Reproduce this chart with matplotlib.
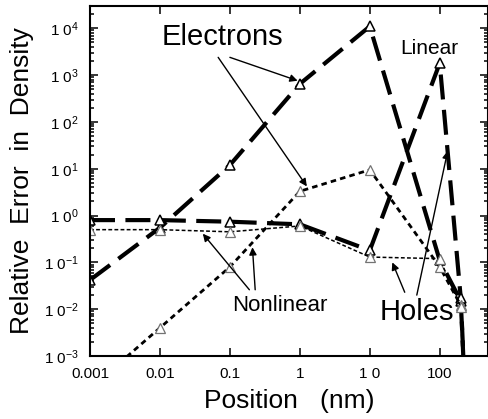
import matplotlib
matplotlib.use('Agg')
import matplotlib.pyplot as plt
from matplotlib.ticker import LogLocator, NullLocator, FixedLocator, FixedFormatter

plt.rcParams['font.family'] = ['Liberation Sans', 'DejaVu Sans']
plt.rcParams['mathtext.default'] = 'regular'

# positions (nm)
pos = [0.001, 0.01, 0.1, 1, 10, 100, 200, 250]

elec_lin = [0.042, 0.55, 12, 650, 11000, 0.11, 0.015, 1e-5]
hole_lin = [0.8, 0.8, 0.74, 0.65, 0.18, 1800, 0.017, 1e-5]
elec_nl = [0.0002, 0.004, 0.08, 3.3, 9.5, 0.08, 0.012, 1e-5]
hole_nl = [0.5, 0.5, 0.45, 0.6, 0.13, 0.12, 0.011, 1e-5]

xticks = [0.001, 0.01, 0.1, 1, 10, 100]
xlabels = ['0.001', '0.01', '0.1', '1', '1 0', '100']
yticks = [1e-3, 1e-2, 1e-1, 1, 10, 100, 1e3, 1e4]
ylabels = [r'1 0$^{-3}$', r'1 0$^{-2}$', r'1 0$^{-1}$', r'1 0$^{0}$',
           r'1 0$^{1}$', r'1 0$^{2}$', r'1 0$^{3}$', r'1 0$^{4}$']

fig = plt.figure(figsize=(4.89, 4.19), dpi=100)
ax = fig.add_axes([90/489, 63/419, 398/489, 350/419])

mk = dict(marker='^', markersize=7, markerfacecolor='white')

ax.plot(pos, elec_lin, color='k', lw=3, dashes=(6, 2.5), markeredgecolor='k', markeredgewidth=1.1, **mk)
ax.plot(pos, hole_lin, color='k', lw=3, dashes=(6, 2.5), markeredgecolor='k', markeredgewidth=1.1, **mk)
ax.plot(pos, elec_nl, color='k', lw=2, dashes=(2, 1.5), markeredgecolor='0.45', markeredgewidth=0.9, **mk)
ax.plot(pos, hole_nl, color='k', lw=1.1, dashes=(2.5, 1.5), markeredgecolor='0.45', markeredgewidth=0.9, **mk)

ax.set_xscale('log')
ax.set_yscale('log')
ax.set_xlim(0.001, 490)
ax.set_ylim(1e-3, 3e4)

ax.xaxis.set_major_locator(FixedLocator(xticks))
ax.xaxis.set_major_formatter(FixedFormatter(xlabels))
ax.xaxis.set_minor_locator(NullLocator())
ax.yaxis.set_major_locator(FixedLocator(yticks))
ax.yaxis.set_major_formatter(FixedFormatter(ylabels))
ax.yaxis.set_minor_locator(LogLocator(base=10, subs=range(2, 10), numticks=20))

ax.tick_params(which='both', direction='in', top=True, right=True, width=1.1)
ax.tick_params(which='major', length=6, labelsize=11, pad=8)
ax.tick_params(which='minor', length=3)
for s in ax.spines.values():
    s.set_linewidth(1.5)

ax.set_xlabel('Position   (nm)', fontsize=19)
ax.xaxis.set_label_coords(0.5, -0.095)
ax.set_ylabel('Relative  Error  in  Density', fontsize=19)
ax.yaxis.set_label_coords(-0.14, 0.5)

arr = dict(arrowstyle='-|>', lw=1, color='k', mutation_scale=11, shrinkA=0, shrinkB=0)

ax.text(0.077, 6400, 'Electrons', fontsize=21, ha='center', va='center')
ax.annotate('', xy=(0.93, 760), xytext=(0.1, 2400), arrowprops=arr)
ax.annotate('', xy=(1.26, 4.2), xytext=(0.068, 2400), arrowprops=arr)

ax.text(72, 3700, 'Linear', fontsize=15, ha='center', va='center')

ax.text(47, 0.0087, 'Holes', fontsize=21, ha='center', va='center')
ax.annotate('', xy=(21, 0.10), xytext=(31.6, 0.023), arrowprops=arr)
ax.annotate('', xy=(130, 24), xytext=(47, 0.02), arrowprops=arr)

ax.text(0.52, 0.012, 'Nonlinear', fontsize=16, ha='center', va='center')
ax.annotate('', xy=(0.041, 0.41), xytext=(0.19, 0.026), arrowprops=arr)
ax.annotate('', xy=(0.21, 0.21), xytext=(0.23, 0.026), arrowprops=arr)

fig.savefig('out.png', dpi=100)
